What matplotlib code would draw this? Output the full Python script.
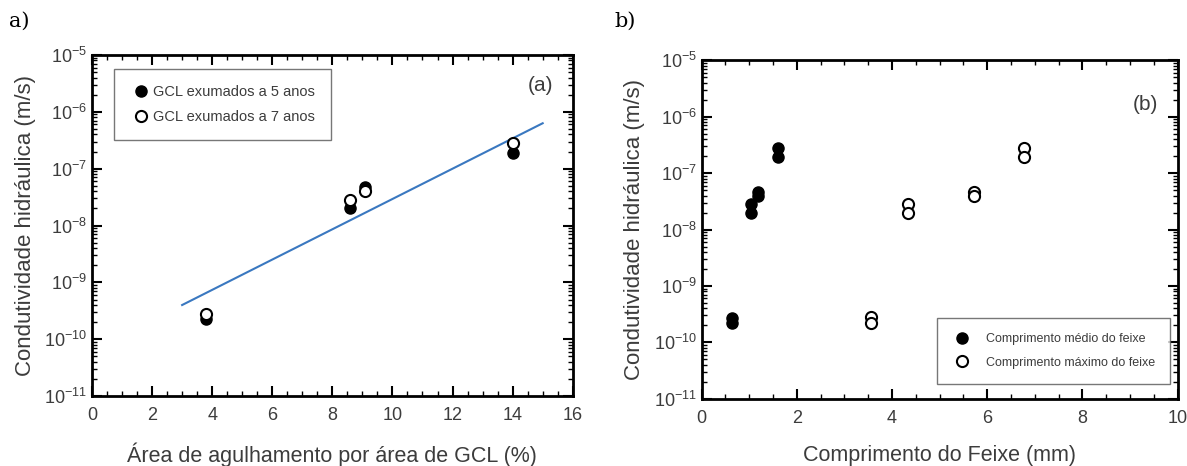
import matplotlib
matplotlib.use('Agg')
import matplotlib.pyplot as plt
from matplotlib.ticker import LogLocator, MultipleLocator, LogFormatterMathtext, NullFormatter

plt.rcParams['font.family'] = ['Liberation Sans', 'DejaVu Sans']
plt.rcParams['mathtext.fontset'] = 'custom'
plt.rcParams['mathtext.rm'] = 'Liberation Sans'
plt.rcParams['mathtext.it'] = 'Liberation Sans:italic'
plt.rcParams['mathtext.bf'] = 'Liberation Sans:bold'

TXT = '#3c3c3c'

# panel a: needle-punched area vs hydraulic conductivity
area = [3.8, 8.6, 9.1, 14.0]
k_5anos = [2.3e-10, 2.0e-8, 4.7e-8, 1.9e-7]
k_7anos = [2.8e-10, 2.8e-8, 4.0e-8, 2.8e-7]
fit_x = [3.0, 15.0]
fit_k = [4.0e-10, 6.3e-7]

# panel b: fibre length vs hydraulic conductivity
comp_medio = [0.63, 0.63, 1.05, 1.05, 1.19, 1.19, 1.61, 1.61]
k_medio = [2.7e-10, 2.2e-10, 2.8e-8, 2.0e-8, 4.6e-8, 3.9e-8, 2.8e-7, 1.9e-7]
comp_max = [3.56, 3.56, 4.34, 4.34, 5.73, 5.73, 6.78, 6.78]
k_max = [2.8e-10, 2.2e-10, 2.8e-8, 2.0e-8, 4.6e-8, 4.0e-8, 2.8e-7, 1.9e-7]


def style_axes(ax, xmax):
    ax.set_yscale('log')
    ax.set_ylim(1e-11, 1e-5)
    ax.set_xlim(0, xmax)
    ax.xaxis.set_major_locator(MultipleLocator(2))
    ax.xaxis.set_minor_locator(MultipleLocator(0.5))
    ax.yaxis.set_major_locator(LogLocator(base=10, numticks=10))
    ax.yaxis.set_minor_locator(LogLocator(base=10, subs=range(2, 10), numticks=20))
    ax.yaxis.set_major_formatter(LogFormatterMathtext())
    ax.yaxis.set_minor_formatter(NullFormatter())
    ax.tick_params(which='both', direction='in', top=True, right=True, labelsize=13,
                   labelcolor=TXT)
    ax.tick_params(axis='x', pad=8)
    ax.tick_params(which='major', length=7, width=1.5)
    ax.tick_params(which='minor', length=3.5, width=1.0)
    for s in ax.spines.values():
        s.set_linewidth(2)
    ax.set_ylabel('Condutividade hidráulica (m/s)', fontsize=16, labelpad=6, color=TXT)


fig = plt.figure(figsize=(11.87, 4.66), dpi=100)
ax1 = fig.add_axes([0.0775, 0.150, 0.405, 0.732])
ax2 = fig.add_axes([0.591, 0.144, 0.401, 0.727])

# (a)
ax1.plot(fit_x, fit_k, color='#3a78c0', linewidth=1.5, zorder=1)
ax1.plot(area, k_5anos, 'o', color='black', markersize=8, label='GCL exumados a 5 anos', zorder=2)
ax1.plot(area, k_7anos, 'o', markerfacecolor='white', markeredgecolor='black', markeredgewidth=1.5,
         markersize=8, label='GCL exumados a 7 anos', zorder=3)
style_axes(ax1, 16)
ax1.set_xlabel('Área de agulhamento por área de GCL (%)', fontsize=15.5, labelpad=13, color=TXT)
ax1.text(0.96, 0.91, '(a)', transform=ax1.transAxes, ha='right', va='center', fontsize=15, color=TXT)
leg1 = ax1.legend(loc='upper left', bbox_to_anchor=(0.045, 0.96), fontsize=10.5, frameon=True, fancybox=False,
                  handletextpad=0.0, handlelength=1.6, borderpad=1.1, labelspacing=0.8, borderaxespad=0,
                  labelcolor=TXT)
leg1.get_frame().set_edgecolor('#555555')
leg1.get_frame().set_linewidth(1.0)

# (b)
ax2.plot(comp_medio, k_medio, 'o', color='black', markersize=8, label='Comprimento médio do feixe')
ax2.plot(comp_max, k_max, 'o', markerfacecolor='white', markeredgecolor='black', markeredgewidth=1.5,
         markersize=8, label='Comprimento máximo do feixe')
style_axes(ax2, 10)
ax2.set_xlabel('Comprimento do Feixe (mm)', fontsize=15.5, labelpad=13, color=TXT)
ax2.text(0.96, 0.87, '(b)', transform=ax2.transAxes, ha='right', va='center', fontsize=15, color=TXT)
leg2 = ax2.legend(loc='lower right', bbox_to_anchor=(0.985, 0.045), fontsize=9, frameon=True, fancybox=False,
                  handletextpad=1.2, handlelength=1.5, borderpad=1.2, labelspacing=0.9, borderaxespad=0,
                  labelcolor=TXT)
leg2.get_frame().set_edgecolor('#555555')
leg2.get_frame().set_linewidth(1.0)

fig.text(0.008, 0.955, 'a)', fontsize=15, family='DejaVu Serif', va='center')
fig.text(0.518, 0.955, 'b)', fontsize=15, family='DejaVu Serif', va='center')

fig.savefig('out.png', dpi=100)
